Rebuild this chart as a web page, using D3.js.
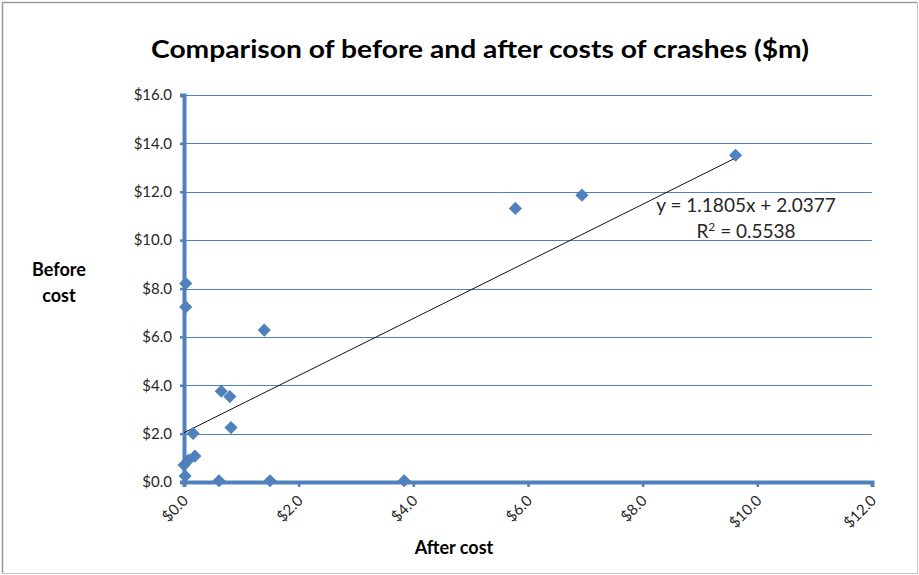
<!DOCTYPE html>
<html>
<head>
<meta charset="utf-8">
<script src="https://cdn.jsdelivr.net/npm/d3@7"></script>
<style>
  html, body { margin: 0; padding: 0; background: #fff; }
  svg { display: block; }
</style>
</head>
<body>
<svg id="chart" width="919" height="575"></svg>
<script>
// Crash costs per site, $m
const afterCost  = [0.03, 0.03, 1.40, 0.65, 0.80, 0.82, 0.16, 0.19, 0.08, 0.00, 0.02, 0.61, 1.50, 3.84, 5.78, 6.94, 9.62];
const beforeCost = [8.21, 7.24, 6.28, 3.75, 3.53, 2.25, 2.01, 1.07, 0.91, 0.70, 0.25, 0.05, 0.05, 0.05, 11.31, 11.86, 13.51];

// Linear trend fitted to the points
const trendSlope = 1.1805;
const trendIntercept = 2.0377;
const rSquared = 0.5538;

const xTicks = [0, 2, 4, 6, 8, 10, 12];
const yTicks = [0, 2, 4, 6, 8, 10, 12, 14, 16];

const titleText = "Comparison  of before and after costs of crashes ($m)";
const xTitle = "After cost";
const yTitle = ["Before", "cost"];

const blue = "#4f81bd";
const fontFamily = "Lato, 'Open Sans', sans-serif";

const svg = d3.select("#chart");

// Outer frame
svg.append("rect")
  .attr("x", 2.5).attr("y", 2.5).attr("width", 915).attr("height", 571)
  .attr("fill", "#fff").attr("stroke", "#c4c4c4").attr("stroke-width", 1);
svg.append("path")
  .attr("d", "M2.5,573 L2.5,2.5 L917,2.5")
  .attr("fill", "none").attr("stroke", "#9a9a9a").attr("stroke-width", 1.5);

const plot = { left: 184, right: 872, top: 95, bottom: 482 };

const x = d3.scaleLinear().domain([0, 12]).range([plot.left, plot.right]);
const y = d3.scaleLinear().domain([0, 16]).range([plot.bottom, plot.top]);

// Horizontal gridlines
svg.append("g")
  .selectAll("line")
  .data(yTicks.filter(d => d > 0))
  .join("line")
  .attr("x1", plot.left).attr("x2", plot.right)
  .attr("y1", d => Math.round(y(d)) + 0.5).attr("y2", d => Math.round(y(d)) + 0.5)
  .attr("stroke", blue).attr("stroke-width", 1.2);

const money = d => "$" + d3.format(".1f")(d);

// Y axis
const yAxis = svg.append("g")
  .attr("transform", `translate(${plot.left},0)`)
  .call(d3.axisLeft(y).tickValues(yTicks).tickSize(4).tickPadding(8).tickFormat(money));
yAxis.select(".domain").attr("stroke", blue).attr("stroke-width", 4);
yAxis.selectAll(".tick line").attr("stroke", blue).attr("stroke-width", 2.5);
yAxis.selectAll(".tick text")
  .attr("fill", "#262626").attr("font-size", 15).attr("font-family", fontFamily);

// X axis
const xAxis = svg.append("g")
  .attr("transform", `translate(0,${plot.bottom})`)
  .call(d3.axisBottom(x).tickValues(xTicks).tickSize(5).tickFormat(money));
xAxis.select(".domain").attr("stroke", blue).attr("stroke-width", 4);
xAxis.selectAll(".tick line").attr("stroke", blue).attr("stroke-width", 2.5);
xAxis.selectAll(".tick text")
  .attr("fill", "#262626").attr("font-size", 15).attr("font-family", fontFamily)
  .attr("text-anchor", "end")
  .attr("x", 0).attr("y", 0)
  .attr("dy", "0.35em")
  .attr("transform", "translate(1,16) rotate(-45)");

// Trend line across the observed range
const xMax = d3.max(afterCost);
svg.append("line")
  .attr("x1", x(0)).attr("y1", y(trendIntercept))
  .attr("x2", x(xMax)).attr("y2", y(trendSlope * xMax + trendIntercept))
  .attr("stroke", "#111").attr("stroke-width", 1);

// Diamond markers
const diamond = d3.symbol().type(d3.symbolDiamond2).size(110);
svg.append("g")
  .selectAll("path")
  .data(afterCost.map((a, i) => [a, beforeCost[i]]))
  .join("path")
  .attr("d", diamond)
  .attr("transform", d => `translate(${x(d[0])},${y(d[1])})`)
  .attr("fill", blue);

// Trend equation
svg.append("text")
  .attr("x", 746).attr("y", 212)
  .attr("text-anchor", "middle")
  .attr("font-family", fontFamily).attr("font-size", 19).attr("fill", "#262626")
  .text(`y = ${trendSlope}x + ${trendIntercept}`);
const r2 = svg.append("text")
  .attr("x", 746).attr("y", 238)
  .attr("text-anchor", "middle")
  .attr("font-family", fontFamily).attr("font-size", 19).attr("fill", "#262626");
r2.append("tspan").text("R");
r2.append("tspan").text("2").attr("font-size", 12).attr("dy", -7);
r2.append("tspan").text(` = ${rSquared}`).attr("dy", 7);

// Titles
svg.append("text")
  .attr("x", 480).attr("y", 58)
  .attr("text-anchor", "middle")
  .attr("font-family", fontFamily).attr("font-weight", "bold")
  .attr("font-size", 25).attr("fill", "#000")
  .attr("textLength", 658).attr("lengthAdjust", "spacingAndGlyphs")
  .text(titleText);

svg.append("text")
  .attr("x", 454).attr("y", 554)
  .attr("text-anchor", "middle")
  .attr("font-family", fontFamily).attr("font-weight", "bold")
  .attr("font-size", 18).attr("fill", "#000")
  .text(xTitle);

svg.append("g")
  .selectAll("text")
  .data(yTitle)
  .join("text")
  .attr("x", 59).attr("y", (d, i) => 276 + i * 26)
  .attr("text-anchor", "middle")
  .attr("font-family", fontFamily).attr("font-weight", "bold")
  .attr("font-size", 18).attr("fill", "#000")
  .text(d => d);
</script>
</body>
</html>
